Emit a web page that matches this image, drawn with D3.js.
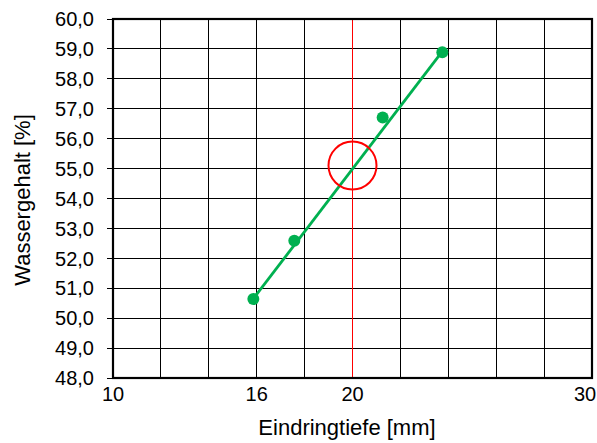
<!DOCTYPE html>
<html><head><meta charset="utf-8">
<script src="https://cdn.jsdelivr.net/npm/d3@7"></script>
<style>body{margin:0;background:#fff}svg{display:block}text{font-family:"Liberation Sans",Arial,sans-serif}</style>
</head><body><svg id="c" width="597" height="443"></svg>
<script>
const pointsX = [15.86, 17.57, 21.26, 23.75];
const pointsY = [50.64, 52.59, 56.71, 58.89];
const fitX = [15.86, 23.75];
const fitY = [50.65, 58.92];
const markerX = 20;
const markerY = 55.1;
const xTickLabels = [10, 16, 20, 30];
const xGrid = [10, 12, 14, 16, 18, 20, 22, 24, 26, 28, 30];
const yTicks = [48, 49, 50, 51, 52, 53, 54, 55, 56, 57, 58, 59, 60];

const svg = d3.select("#c");
const L = 113, R = 592, T = 19, B = 378;
const x = d3.scaleLinear().domain([10, 30]).range([L, R]);
const y = d3.scaleLinear().domain([48, 60]).range([B, T]);
const fmt = v => d3.format(".1f")(v).replace(".", ",");

// grid
svg.append("g").selectAll("line").data(xGrid).join("line")
  .attr("x1", d => x(d)).attr("x2", d => x(d)).attr("y1", T).attr("y2", B)
  .attr("stroke", "#000").attr("stroke-width", 1).attr("shape-rendering", "crispEdges");
svg.append("g").selectAll("line").data(yTicks).join("line")
  .attr("x1", L - 6).attr("x2", R).attr("y1", d => y(d)).attr("y2", d => y(d))
  .attr("stroke", "#000").attr("stroke-width", 1).attr("shape-rendering", "crispEdges");

// red vertical
svg.append("line").attr("x1", x(markerX)).attr("x2", x(markerX)).attr("y1", T).attr("y2", B)
  .attr("stroke", "#ff0000").attr("stroke-width", 1).attr("shape-rendering", "crispEdges");

// frame
svg.append("rect").attr("x", L).attr("y", T).attr("width", R - L).attr("height", B - T)
  .attr("fill", "none").attr("stroke", "#000").attr("stroke-width", 2.2);

// y labels
svg.append("g").selectAll("text").data(yTicks).join("text")
  .attr("x", 94).attr("y", d => y(d)).attr("dy", "0.36em").attr("text-anchor", "end")
  .attr("font-size", 20).attr("fill", "#000").text(fmt);
// x labels
svg.append("g").selectAll("text").data(xTickLabels).join("text")
  .attr("x", d => Math.min(x(d), 585)).attr("y", 401).attr("text-anchor", "middle")
  .attr("font-size", 20).attr("fill", "#000").text(d => d);

// fit line
svg.append("path").datum(d3.zip(fitX, fitY))
  .attr("d", d3.line().x(d => x(d[0])).y(d => y(d[1])))
  .attr("stroke", "#00b050").attr("stroke-width", 2.8).attr("fill", "none");
// points
svg.append("g").selectAll("circle").data(d3.zip(pointsX, pointsY)).join("circle")
  .attr("cx", d => x(d[0])).attr("cy", d => y(d[1])).attr("r", 6).attr("fill", "#00b050");

// red circle
svg.append("circle").attr("cx", x(markerX)).attr("cy", y(markerY)).attr("r", 24)
  .attr("fill", "none").attr("stroke", "#ff0000").attr("stroke-width", 2);

// titles
svg.append("text").attr("x", 347).attr("y", 435).attr("text-anchor", "middle")
  .attr("font-size", 22).text("Eindringtiefe [mm]");
svg.append("text").attr("transform", "translate(30,200) rotate(-90)")
  .attr("text-anchor", "middle").attr("font-size", 22).text("Wassergehalt [%]");
</script></body></html>
